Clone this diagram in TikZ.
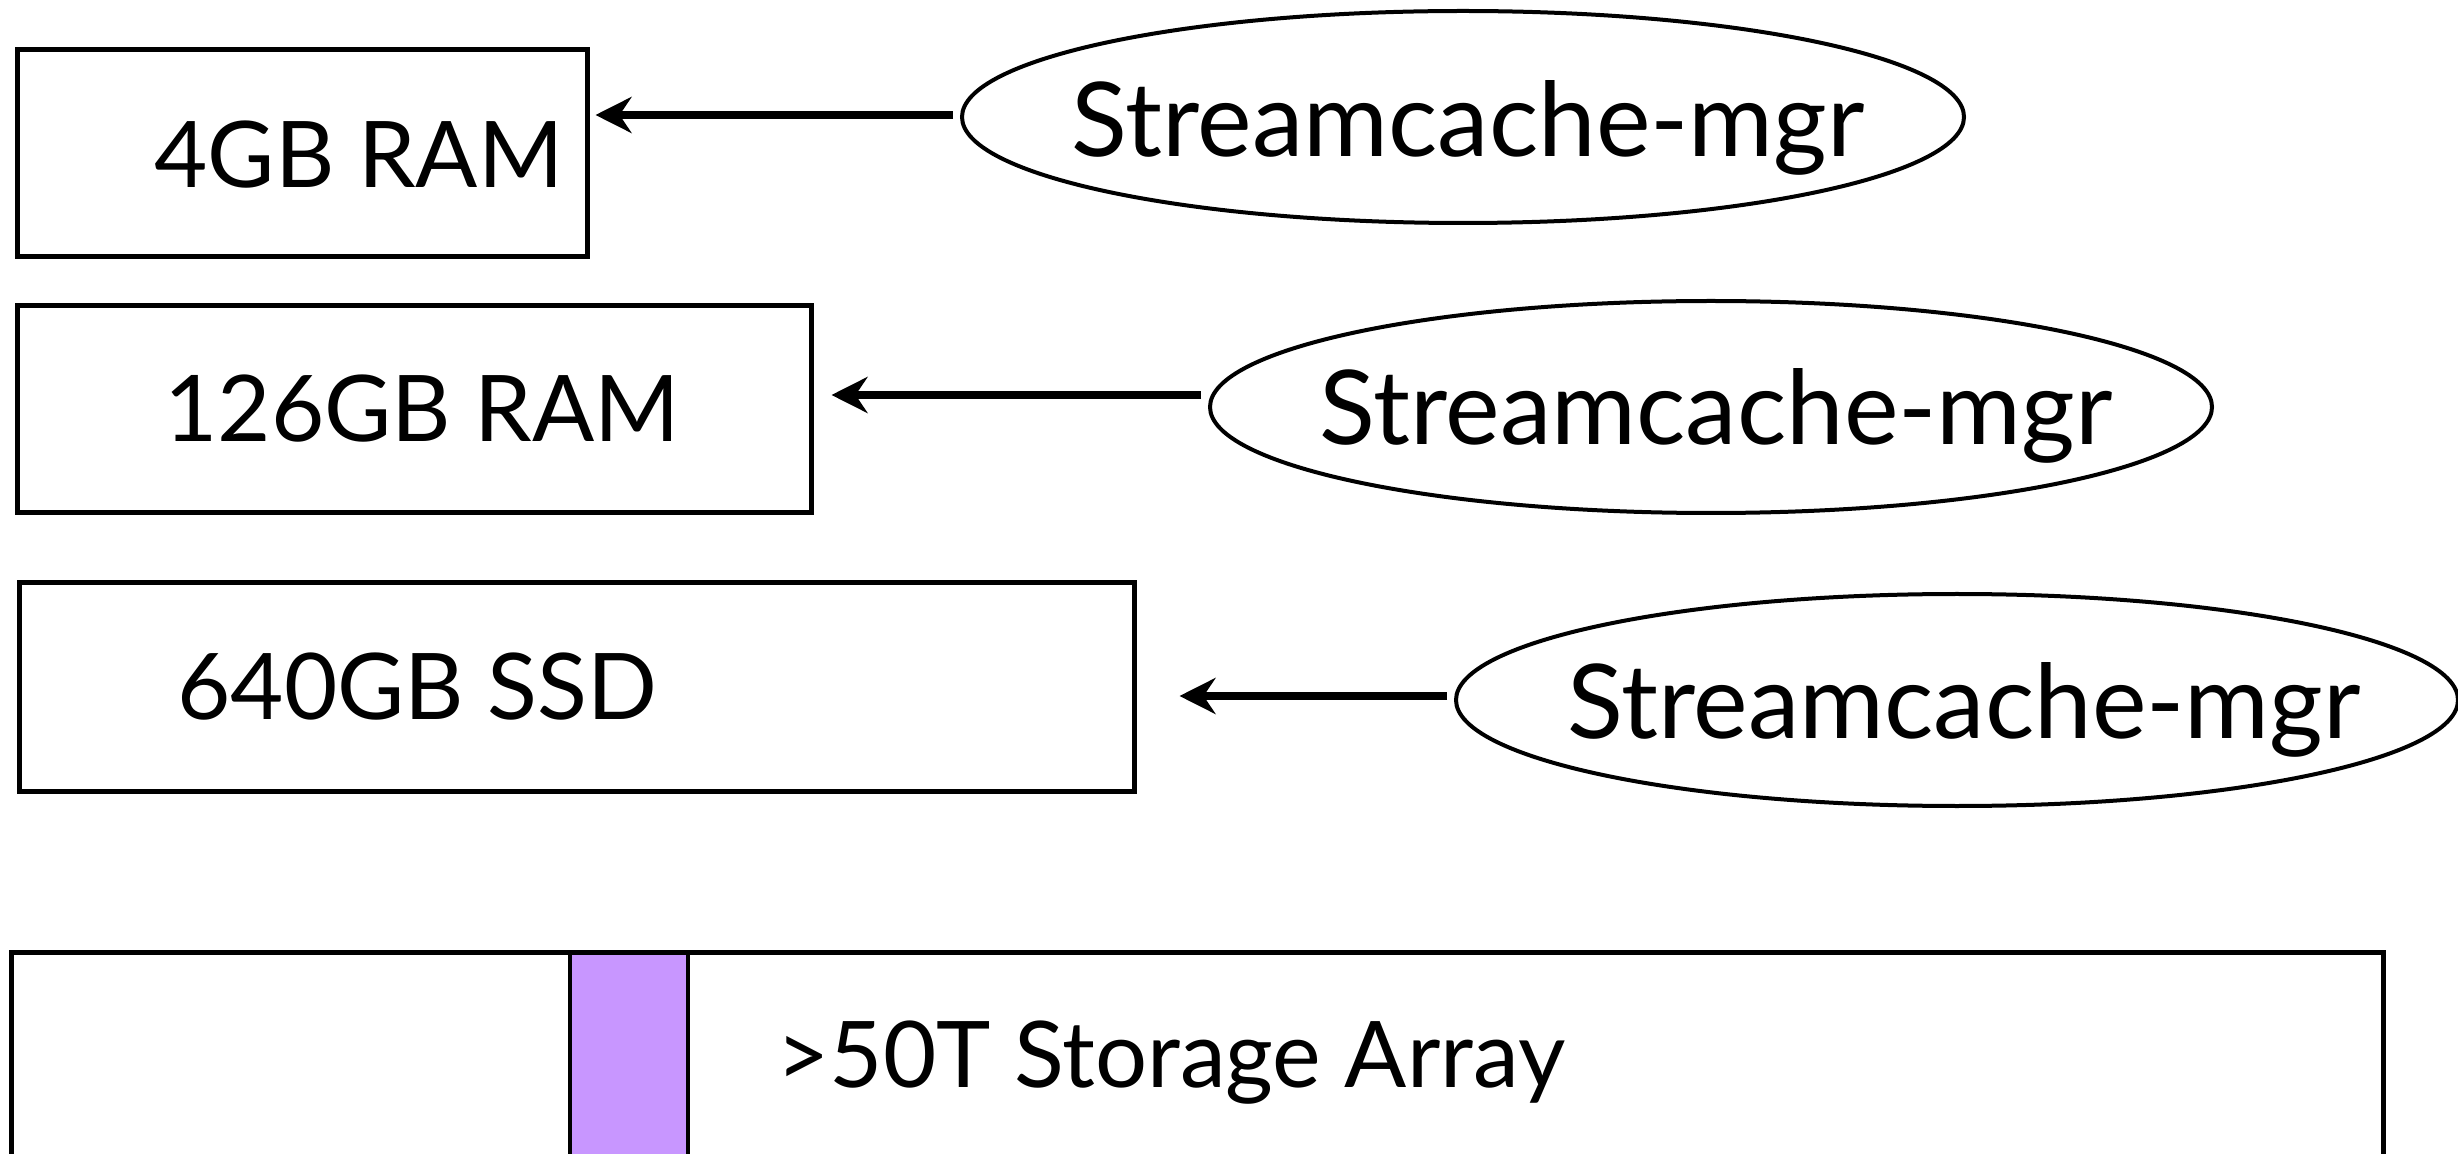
\documentclass[tikz,border=0pt]{standalone}
\usepackage{fontspec}
\setmainfont{Lato}
\usetikzlibrary{arrows.meta,shapes.geometric}
\definecolor{lilac}{RGB}{200,150,255}
\begin{document}
\begin{tikzpicture}[x=0.5pt,y=-0.5pt,
  membox/.style={draw,line width=2.5pt,rectangle,inner sep=0pt},
  mgr/.style={draw,line width=2pt,ellipse,inner sep=0pt,minimum width=501pt,minimum height=106pt},
  boxtext/.style={inner sep=0pt,anchor=base west,font=\fontsize{46}{55}\selectfont},
  mgrtext/.style={inner sep=0pt,anchor=base,font=\fontsize{51.6}{60}\selectfont},
  arr/.style={line width=3.6pt,-{Stealth[length=18pt,width=18pt,inset=6pt]}}]
\clip (0,0) rectangle (2458,1154);
\fill[white] (0,0) rectangle (2458,1154);
% memory boxes
\node[membox,minimum width=285pt,minimum height=103.5pt] (b1) at (302,153.5) {};
\node[boxtext] (t1) at (154,188) {4GB RAM};
\node[membox,minimum width=397pt,minimum height=103.5pt] (b2) at (414,409.5) {};
\node[boxtext] (t2) at (164,442) {126GB RAM};
\node[membox,minimum width=557.5pt,minimum height=104pt] (b3) at (576.5,687) {};
\node[boxtext] (t3) at (177,719) {640GB SSD};
% managers
\node[mgr] (e1) at (1463,117) {};
\node[mgrtext] (m1) at (1468,157) {Streamcache-mgr};
\node[mgr] (e2) at (1711,407) {};
\node[mgrtext] (m2) at (1716,445) {Streamcache-mgr};
\node[mgr] (e3) at (1957,700) {};
\node[mgrtext] (m3) at (1964,738) {Streamcache-mgr};
% arrows
\draw[arr] ([xshift=-3.5pt,yshift=1pt]e1.west) -- ([xshift=3pt,yshift=1pt]b1.east |- e1.west);
\draw[arr] ([xshift=-3.5pt,yshift=6pt]e2.west) -- ([xshift=9pt,yshift=6pt]b2.east |- e2.west);
\draw[arr] ([xshift=-3.5pt,yshift=2pt]e3.west) -- ([xshift=21.5pt,yshift=2pt]b3.east |- e3.west);
% storage array
\node[draw,line width=1.6pt,fill=lilac,inner sep=0pt,minimum width=59pt,minimum height=124pt] (band) at (629,1076) {};
\node[membox,minimum width=1186pt,minimum height=124pt] (store) at (1197,1076) {};
\node[boxtext] (st) at (776,1087) {>50T Storage Array};
\end{tikzpicture}
\end{document}
